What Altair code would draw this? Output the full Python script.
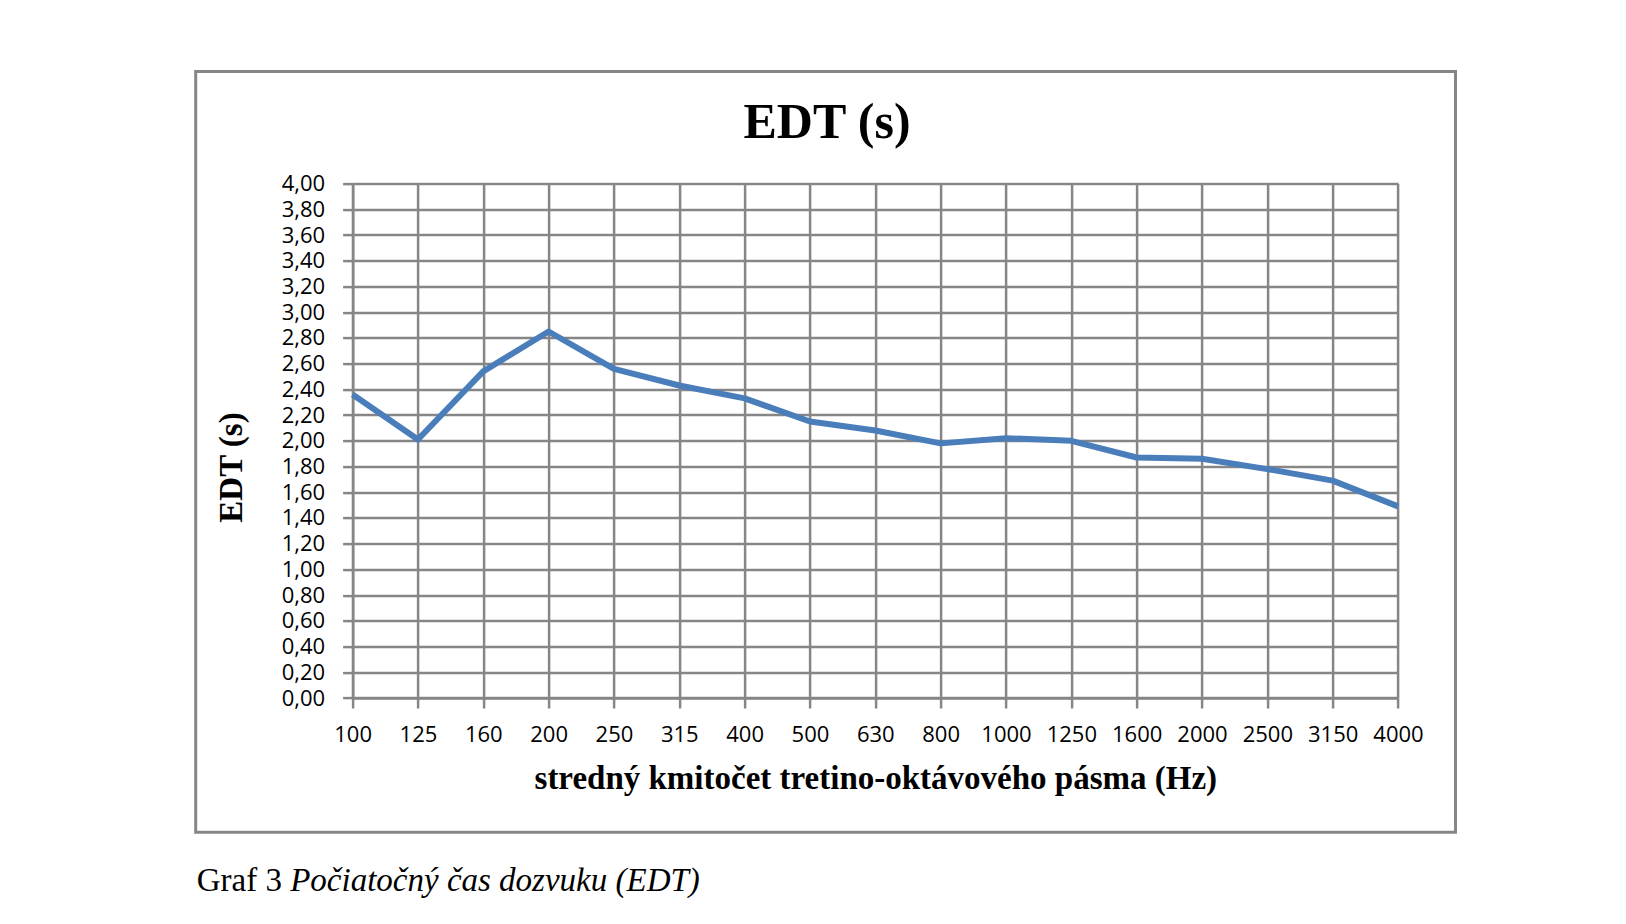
import altair as alt
import pandas as pd

freqs = ["100", "125", "160", "200", "250", "315", "400", "500", "630", "800",
         "1000", "1250", "1600", "2000", "2500", "3150", "4000"]
edt = [2.36, 2.01, 2.54, 2.85, 2.56, 2.43, 2.33, 2.15, 2.08, 1.98,
       2.02, 2.00, 1.87, 1.86, 1.78, 1.69, 1.49]
y_ticks = [round(i * 0.2, 2) for i in range(21)]

chart_title = "EDT (s)"
x_title = "stredný kmitočet tretino-oktávového pásma (Hz)"
y_title = "EDT (s)"
caption_a = "Graf 3"
caption_b = "Počiatočný čas dozvuku (EDT)"

GRAY = "#868686"
SERIF = "Liberation Serif"
SANS = "Open Sans"

W, H = 1045.4, 514.4

df = pd.DataFrame({"freq": freqs, "edt": edt})

line = alt.Chart(df).mark_line(color="#4A7EBB", strokeWidth=6, strokeJoin="round").encode(
    x=alt.X("freq:O", sort=freqs,
            scale=alt.Scale(type="point", padding=0),
            axis=alt.Axis(title=x_title, labelAngle=0, labelOverlap=False,
                          labelFont=SANS, labelFontSize=22, labelColor="black",
                          labelPadding=16, tickSize=10, tickColor=GRAY, tickWidth=2.5,
                          domainColor=GRAY, domainWidth=2.5,
                          grid=True, gridColor=GRAY, gridWidth=2.5,
                          titleFont=SERIF, titleFontSize=33, titleFontWeight="bold",
                          titleColor="black", titleX=W / 2, titleY=90,
                          titleAlign="center", titleBaseline="alphabetic")),
    y=alt.Y("edt:Q", scale=alt.Scale(domain=[0, 4], nice=False, zero=True),
            axis=alt.Axis(title=y_title, values=y_ticks, labelOverlap=False,
                          labelExpr="replace(format(datum.value, '.2f'), '.', ',')",
                          labelFont=SANS, labelFontSize=22, labelColor="black",
                          labelPadding=18, tickSize=10, tickColor=GRAY, tickWidth=2.5,
                          domainColor=GRAY, domainWidth=2.5,
                          grid=True, gridColor=GRAY, gridWidth=2.5,
                          titleFont=SERIF, titleFontSize=33, titleFontWeight="bold",
                          titleColor="black", titleX=-111, titleY=283.4,
                          titleAlign="center", titleBaseline="alphabetic", titleAngle=-90)),
)

frame = alt.Chart(pd.DataFrame({"k": [0]})).mark_rect(
    fillOpacity=0, stroke=GRAY, strokeWidth=3
).encode(
    x=alt.value(-156.9), x2=alt.value(1102.9),
    y=alt.value(-112.1), y2=alt.value(648.7),
)

title = alt.Chart(pd.DataFrame({"t": [chart_title]})).mark_text(
    font=SERIF, fontSize=50, fontWeight="bold", align="center",
    baseline="alphabetic", color="black"
).encode(x=alt.value(474.4), y=alt.value(-46.0), text="t:N")

cap1 = alt.Chart(pd.DataFrame({"t": [caption_a]})).mark_text(
    font=SERIF, fontSize=33, align="left", baseline="alphabetic", color="black"
).encode(x=alt.value(-155.9), y=alt.value(707.5), text="t:N")

cap2 = alt.Chart(pd.DataFrame({"t": [caption_b]})).mark_text(
    font=SERIF, fontSize=33, fontStyle="italic", align="left",
    baseline="alphabetic", color="black"
).encode(x=alt.value(-62.4), y=alt.value(707.5), text="t:N")

chart = alt.layer(frame, line, title, cap1, cap2).properties(
    width=W, height=H,
    padding={"left": 344.6, "top": 175.6, "right": 200, "bottom": 200},
    autosize=alt.AutoSizeParams(type="none"),
    background="white",
).configure_view(strokeWidth=0)

chart.save("out.html", embed_options={"renderer": "svg", "actions": False})
